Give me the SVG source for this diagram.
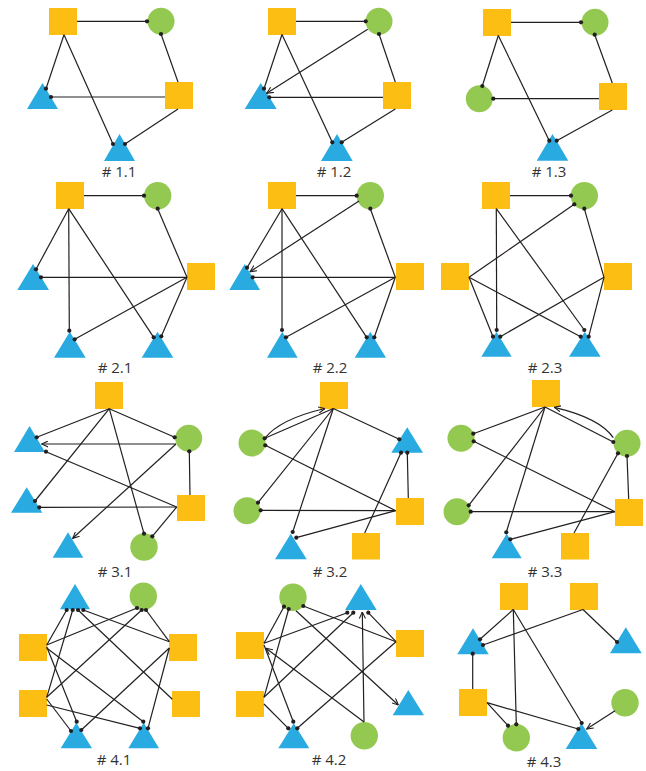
<svg xmlns="http://www.w3.org/2000/svg" width="646" height="771" viewBox="0 0 646 771">
<style>
.sq{fill:#FDBE13}
.ci{fill:#93C950}
.tr{fill:#29ABE2}
.e{stroke:#231F20;stroke-width:1.2;fill:none}
.a{stroke:#231F20;stroke-width:1.2;fill:none;marker-end:url(#arr)}
.d{fill:#231F20}
.lb{font-family:"Open Sans","Liberation Sans",sans-serif;font-size:15px;fill:#333;text-anchor:middle}
</style>
<defs>
<marker id="arr" viewBox="0 0 8 8" refX="7.5" refY="4" markerWidth="7" markerHeight="7" markerUnits="userSpaceOnUse" orient="auto">
<path d="M0,0.5 L7.5,4 L0,7.5" fill="none" stroke="#231F20" stroke-width="1.2"/>
</marker>
</defs>

<!-- Panel 1.1 -->
<g id="p11-n1"><rect class="sq" x="49" y="8" width="28" height="27"/></g>
<g id="p11-n2"><circle class="ci" cx="161" cy="21.3" r="13.5"/></g>
<g id="p11-n3"><polygon class="tr" points="27,109 58,109 42.5,83"/></g>
<g id="p11-n4"><rect class="sq" x="165" y="82" width="28" height="27"/></g>
<g id="p11-n5"><polygon class="tr" points="104,161 135,161 119.5,134"/></g>
<g id="p11-edges">
<line class="e" x1="64" y1="34.7" x2="46" y2="88.7"/>
<line class="e" x1="77" y1="21.3" x2="147" y2="21.3"/>
<line class="e" x1="161" y1="34" x2="178" y2="82"/>
<line class="e" x1="165" y1="97" x2="51" y2="97"/>
<line class="e" x1="64" y1="34.7" x2="113" y2="144"/>
<line class="e" x1="178" y1="109" x2="125" y2="144"/>
<circle class="d" cx="46" cy="88.7" r="2.1"/><circle class="d" cx="147" cy="21.3" r="2.1"/><circle class="d" cx="161" cy="34" r="2.1"/><circle class="d" cx="51" cy="97" r="2.1"/><circle class="d" cx="113" cy="144" r="2.1"/><circle class="d" cx="125" cy="144" r="2.1"/>
</g>
<text class="lb" x="119" y="177"># 1.1</text>

<!-- Panel 1.2 -->
<g id="p12-n1"><rect class="sq" x="268" y="8" width="28" height="27"/></g>
<g id="p12-n2"><circle class="ci" cx="379" cy="21.3" r="13.5"/></g>
<g id="p12-n3"><polygon class="tr" points="244.7,109 276.7,109 260.7,83"/></g>
<g id="p12-n4"><rect class="sq" x="383" y="82" width="28" height="27"/></g>
<g id="p12-n5"><polygon class="tr" points="321,161 352.7,161 337,134"/></g>
<g id="p12-edges">
<line class="e" x1="282" y1="34.5" x2="264" y2="88.7"/>
<line class="e" x1="296" y1="21.3" x2="365.7" y2="21.3"/>
<line class="a" x1="367.7" y1="29.3" x2="266.7" y2="93.3"/>
<line class="e" x1="379" y1="34" x2="395.3" y2="82"/>
<line class="e" x1="383" y1="97.3" x2="269.3" y2="97.3"/>
<line class="e" x1="282" y1="34.5" x2="332.3" y2="142.3"/>
<line class="e" x1="395.3" y1="109" x2="341.7" y2="142.3"/>
<circle class="d" cx="264" cy="88.7" r="2.1"/><circle class="d" cx="365.7" cy="21.3" r="2.1"/><circle class="d" cx="379" cy="34" r="2.1"/><circle class="d" cx="269.3" cy="97.3" r="2.1"/><circle class="d" cx="332.3" cy="142.3" r="2.1"/><circle class="d" cx="341.7" cy="142.3" r="2.1"/>
</g>
<text class="lb" x="334" y="177"># 1.2</text>

<!-- Panel 1.3 -->
<g id="p13-n1"><rect class="sq" x="483" y="9" width="28" height="27"/></g>
<g id="p13-n2"><circle class="ci" cx="595" cy="22.3" r="13.5"/></g>
<g id="p13-n3"><circle class="ci" cx="479.3" cy="98.7" r="13.5"/></g>
<g id="p13-n4"><rect class="sq" x="599" y="83" width="28" height="27"/></g>
<g id="p13-n5"><polygon class="tr" points="536.7,160.7 568.3,160.7 552.5,134"/></g>
<g id="p13-edges">
<line class="e" x1="498.3" y1="35.5" x2="482.3" y2="86"/>
<line class="e" x1="511" y1="22.3" x2="581" y2="22.3"/>
<line class="e" x1="594.7" y1="34.7" x2="612.3" y2="83"/>
<line class="e" x1="599" y1="98.7" x2="493.3" y2="98.7"/>
<line class="e" x1="498.3" y1="35.5" x2="549.3" y2="140.7"/>
<line class="e" x1="612.3" y1="110" x2="556.7" y2="140.7"/>
<circle class="d" cx="482.3" cy="86" r="2.1"/><circle class="d" cx="581" cy="22.3" r="2.1"/><circle class="d" cx="594.7" cy="34.7" r="2.1"/><circle class="d" cx="493.3" cy="98.7" r="2.1"/><circle class="d" cx="549.3" cy="140.7" r="2.1"/><circle class="d" cx="556.7" cy="140.7" r="2.1"/>
</g>
<text class="lb" x="549" y="177"># 1.3</text>

<!-- Panel 2.1 -->
<g id="p21-n1"><rect class="sq" x="56" y="182" width="28" height="27"/></g>
<g id="p21-n2"><circle class="ci" cx="157.7" cy="195.7" r="13.7"/></g>
<g id="p21-n3"><polygon class="tr" points="17.3,290 49,290 33,264"/></g>
<g id="p21-n4"><rect class="sq" x="187" y="263" width="28" height="27"/></g>
<g id="p21-n5"><polygon class="tr" points="54,357.7 85.7,357.7 69.8,331.7"/></g>
<g id="p21-n6"><polygon class="tr" points="141.7,357.7 173.3,357.7 157.5,331.7"/></g>
<g id="p21-edges">
<line class="e" x1="84" y1="195.7" x2="144" y2="195.7"/>
<line class="e" x1="157.7" y1="208.7" x2="187" y2="277.3"/>
<line class="e" x1="68.7" y1="208.7" x2="36" y2="269.3"/>
<line class="e" x1="68.7" y1="208.7" x2="69.3" y2="330.7"/>
<line class="e" x1="68.7" y1="208.7" x2="153.7" y2="337.3"/>
<line class="e" x1="187" y1="277.3" x2="41" y2="277.3"/>
<line class="e" x1="187" y1="277.3" x2="74.7" y2="339.3"/>
<line class="e" x1="187" y1="277.3" x2="161.3" y2="336.3"/>
<circle class="d" cx="144" cy="195.7" r="2.1"/><circle class="d" cx="157.7" cy="208.7" r="2.1"/><circle class="d" cx="36" cy="269.3" r="2.1"/><circle class="d" cx="69.3" cy="330.7" r="2.1"/><circle class="d" cx="153.7" cy="337.3" r="2.1"/><circle class="d" cx="41" cy="277.3" r="2.1"/><circle class="d" cx="74.7" cy="339.3" r="2.1"/><circle class="d" cx="161.3" cy="336.3" r="2.1"/>
</g>
<text class="lb" x="115" y="373"># 2.1</text>

<!-- Panel 2.2 -->
<g id="p22-n1"><rect class="sq" x="268" y="182" width="28" height="27"/></g>
<g id="p22-n2"><circle class="ci" cx="370.3" cy="195.7" r="13.7"/></g>
<g id="p22-n3"><polygon class="tr" points="229.3,290 260,290 244.7,264"/></g>
<g id="p22-n4"><rect class="sq" x="396" y="263" width="28" height="27"/></g>
<g id="p22-n5"><polygon class="tr" points="267,357.7 297.7,357.7 282.3,331.7"/></g>
<g id="p22-n6"><polygon class="tr" points="354.7,357.7 386,357.7 370.3,331.7"/></g>
<g id="p22-edges">
<line class="e" x1="296" y1="195.7" x2="356.7" y2="195.7"/>
<line class="a" x1="359" y1="201" x2="250" y2="271.7"/>
<line class="e" x1="370.3" y1="208.7" x2="395.3" y2="277.3"/>
<line class="e" x1="282" y1="208.7" x2="247" y2="267.7"/>
<line class="e" x1="282" y1="208.7" x2="282" y2="330"/>
<line class="e" x1="282" y1="208.7" x2="366.7" y2="337.3"/>
<line class="e" x1="395.3" y1="277.3" x2="252.7" y2="277.3"/>
<line class="e" x1="395.3" y1="277.3" x2="286" y2="337.3"/>
<line class="e" x1="395.3" y1="277.3" x2="374.3" y2="337.3"/>
<circle class="d" cx="356.7" cy="195.7" r="2.1"/><circle class="d" cx="370.3" cy="208.7" r="2.1"/><circle class="d" cx="247" cy="267.7" r="2.1"/><circle class="d" cx="282" cy="330" r="2.1"/><circle class="d" cx="366.7" cy="337.3" r="2.1"/><circle class="d" cx="252.7" cy="277.3" r="2.1"/><circle class="d" cx="286" cy="337.3" r="2.1"/><circle class="d" cx="374.3" cy="337.3" r="2.1"/>
</g>
<text class="lb" x="330" y="373"># 2.2</text>

<!-- Panel 2.3 -->
<g id="p23-n1"><rect class="sq" x="482" y="182" width="28" height="27"/></g>
<g id="p23-n2"><circle class="ci" cx="584.3" cy="195.7" r="13.7"/></g>
<g id="p23-n3"><rect class="sq" x="441" y="263" width="28" height="27"/></g>
<g id="p23-n4"><rect class="sq" x="604" y="263" width="28" height="27"/></g>
<g id="p23-n5"><polygon class="tr" points="481.3,356.7 511.7,356.7 496.5,331.7"/></g>
<g id="p23-n6"><polygon class="tr" points="569,356.7 600.7,356.7 584.8,331.7"/></g>
<g id="p23-edges">
<line class="e" x1="510" y1="195.7" x2="571" y2="195.7"/>
<line class="e" x1="574.3" y1="204.3" x2="469" y2="277.3"/>
<line class="e" x1="584.3" y1="208.7" x2="604" y2="277.3"/>
<line class="e" x1="496.3" y1="208.7" x2="496.7" y2="330"/>
<line class="e" x1="496.3" y1="208.7" x2="584.3" y2="330"/>
<line class="e" x1="469" y1="277.3" x2="493" y2="336.7"/>
<line class="e" x1="469" y1="277.3" x2="580.7" y2="336.7"/>
<line class="e" x1="604" y1="277.3" x2="500.3" y2="336.7"/>
<line class="e" x1="604" y1="277.3" x2="588.7" y2="336.7"/>
<circle class="d" cx="571" cy="195.7" r="2.1"/><circle class="d" cx="574.3" cy="204.3" r="2.1"/><circle class="d" cx="584.3" cy="208.7" r="2.1"/><circle class="d" cx="496.7" cy="330" r="2.1"/><circle class="d" cx="584.3" cy="330" r="2.1"/><circle class="d" cx="493" cy="336.7" r="2.1"/><circle class="d" cx="580.7" cy="336.7" r="2.1"/><circle class="d" cx="500.3" cy="336.7" r="2.1"/><circle class="d" cx="588.7" cy="336.7" r="2.1"/>
</g>
<text class="lb" x="545" y="373"># 2.3</text>

<!-- Panel 3.1 -->
<g id="p31-n1"><rect class="sq" x="95" y="382" width="28" height="27"/></g>
<g id="p31-n2"><polygon class="tr" points="14,452 45,452 29.5,426"/></g>
<g id="p31-n3"><circle class="ci" cx="188.7" cy="438.3" r="13.5"/></g>
<g id="p31-n4"><polygon class="tr" points="11,512.7 42.3,512.7 26.7,487.3"/></g>
<g id="p31-n5"><rect class="sq" x="177" y="495" width="28" height="26"/></g>
<g id="p31-n6"><polygon class="tr" points="52.7,557.7 83.3,557.7 68,532.3"/></g>
<g id="p31-n7"><circle class="ci" cx="144" cy="547" r="13.7"/></g>
<g id="p31-edges">
<line class="e" x1="109.3" y1="408.7" x2="36.7" y2="437.3"/>
<line class="e" x1="109.3" y1="408.7" x2="174.7" y2="437.3"/>
<line class="e" x1="109.3" y1="408.7" x2="35" y2="501"/>
<line class="e" x1="109.3" y1="408.7" x2="144" y2="533.7"/>
<line class="a" x1="176" y1="444" x2="41.7" y2="444"/>
<line class="a" x1="176" y1="444" x2="72.7" y2="538.3"/>
<line class="e" x1="190" y1="495" x2="189.3" y2="451.3"/>
<line class="e" x1="176.7" y1="507" x2="46" y2="451.7"/>
<line class="e" x1="176.7" y1="507" x2="39.3" y2="507.3"/>
<line class="e" x1="176.7" y1="507" x2="152.3" y2="536.3"/>
<circle class="d" cx="36.7" cy="437.3" r="2.1"/><circle class="d" cx="174.7" cy="437.3" r="2.1"/><circle class="d" cx="35" cy="501" r="2.1"/><circle class="d" cx="144" cy="533.7" r="2.1"/><circle class="d" cx="189.3" cy="451.3" r="2.1"/><circle class="d" cx="46" cy="451.7" r="2.1"/><circle class="d" cx="39.3" cy="507.3" r="2.1"/><circle class="d" cx="152.3" cy="536.3" r="2.1"/>
</g>
<text class="lb" x="115" y="577"># 3.1</text>

<!-- Panel 3.2 -->
<g id="p32-n1"><rect class="sq" x="320" y="382" width="28" height="27"/></g>
<g id="p32-n2"><circle class="ci" cx="252" cy="443" r="13.5"/></g>
<g id="p32-n3"><polygon class="tr" points="391.3,452.7 423,452.7 407.2,427.3"/></g>
<g id="p32-n4"><circle class="ci" cx="247" cy="510.7" r="13.5"/></g>
<g id="p32-n5"><rect class="sq" x="396" y="498" width="28" height="27"/></g>
<g id="p32-n6"><polygon class="tr" points="275,559.3 306.7,559.3 290.8,533.7"/></g>
<g id="p32-n7"><rect class="sq" x="352" y="533" width="28" height="26.5"/></g>
<g id="p32-edges">
<path class="a" d="M264.7,438.3 Q280,419 325,408.5"/>
<line class="e" x1="333.3" y1="408.5" x2="264.7" y2="438.3"/>
<line class="e" x1="333.3" y1="408.5" x2="399.3" y2="439.3"/>
<line class="e" x1="333.3" y1="408.5" x2="258" y2="502.7"/>
<line class="e" x1="333.3" y1="408.5" x2="292.7" y2="532"/>
<line class="e" x1="265.3" y1="445.3" x2="395.7" y2="510.7"/>
<line class="e" x1="395.7" y1="510.7" x2="260.7" y2="510.3"/>
<line class="e" x1="395.7" y1="510.7" x2="296.3" y2="537.7"/>
<line class="e" x1="408.3" y1="498" x2="407.3" y2="452.7"/>
<line class="e" x1="364.7" y1="533" x2="401" y2="452.7"/>
<circle class="d" cx="264.7" cy="438.3" r="2.1"/><circle class="d" cx="399.3" cy="439.3" r="2.1"/><circle class="d" cx="258" cy="502.7" r="2.1"/><circle class="d" cx="292.7" cy="532" r="2.1"/><circle class="d" cx="265.3" cy="445.3" r="2.1"/><circle class="d" cx="260.7" cy="510.3" r="2.1"/><circle class="d" cx="296.3" cy="537.7" r="2.1"/><circle class="d" cx="407.3" cy="452.7" r="2.1"/><circle class="d" cx="401" cy="452.7" r="2.1"/>
</g>
<text class="lb" x="330" y="577"># 3.2</text>

<!-- Panel 3.3 -->
<g id="p33-n1"><rect class="sq" x="532" y="380" width="28" height="27"/></g>
<g id="p33-n2"><circle class="ci" cx="461" cy="438.3" r="13.5"/></g>
<g id="p33-n3"><circle class="ci" cx="627" cy="443.3" r="13.5"/></g>
<g id="p33-n4"><circle class="ci" cx="457" cy="511.7" r="13.5"/></g>
<g id="p33-n5"><rect class="sq" x="615" y="499" width="28" height="27"/></g>
<g id="p33-n6"><polygon class="tr" points="491.7,558.3 521.7,558.3 506.7,533.7"/></g>
<g id="p33-n7"><rect class="sq" x="561" y="533" width="28" height="26.5"/></g>
<g id="p33-edges">
<line class="e" x1="545" y1="407" x2="473.3" y2="433.7"/>
<line class="e" x1="545" y1="407" x2="613.3" y2="442"/>
<line class="e" x1="545" y1="407" x2="468.7" y2="505.3"/>
<line class="e" x1="545" y1="407" x2="506.3" y2="532.3"/>
<path class="a" d="M613.3,437.7 Q600,418 554.3,407.3"/>
<line class="e" x1="473.7" y1="441.3" x2="615" y2="511.7"/>
<line class="e" x1="615" y1="511.7" x2="470.7" y2="511.7"/>
<line class="e" x1="615" y1="511.7" x2="510.3" y2="539.3"/>
<line class="e" x1="628.7" y1="499" x2="627" y2="456"/>
<line class="e" x1="574" y1="533" x2="618" y2="453.3"/>
<circle class="d" cx="473.3" cy="433.7" r="2.1"/><circle class="d" cx="613.3" cy="442" r="2.1"/><circle class="d" cx="468.7" cy="505.3" r="2.1"/><circle class="d" cx="506.3" cy="532.3" r="2.1"/><circle class="d" cx="473.7" cy="441.3" r="2.1"/><circle class="d" cx="470.7" cy="511.7" r="2.1"/><circle class="d" cx="510.3" cy="539.3" r="2.1"/><circle class="d" cx="627" cy="456" r="2.1"/><circle class="d" cx="618" cy="453.3" r="2.1"/>
</g>
<text class="lb" x="545" y="577"># 3.3</text>

<!-- Panel 4.1 -->
<g id="p41-n1"><polygon class="tr" points="60,609.3 90,609.3 75,584"/></g>
<g id="p41-n2"><circle class="ci" cx="143.3" cy="596.3" r="13.7"/></g>
<g id="p41-n3"><rect class="sq" x="19" y="634" width="28" height="27"/></g>
<g id="p41-n4"><rect class="sq" x="169" y="634" width="28" height="27"/></g>
<g id="p41-n5"><rect class="sq" x="19" y="690" width="28" height="27"/></g>
<g id="p41-n6"><rect class="sq" x="172" y="691" width="28" height="26"/></g>
<g id="p41-n7"><polygon class="tr" points="60.7,748.3 92,748.3 76.3,722.7"/></g>
<g id="p41-n8"><polygon class="tr" points="128.3,748.3 159,748.3 143.7,722.7"/></g>
<g id="p41-edges">
<line class="e" x1="46.7" y1="645" x2="66.7" y2="610"/>
<line class="e" x1="46.7" y1="697.3" x2="72.7" y2="610"/>
<line class="e" x1="172.3" y1="699.3" x2="78" y2="610"/>
<line class="e" x1="169.3" y1="641.7" x2="83.3" y2="610"/>
<line class="e" x1="46.7" y1="645" x2="137" y2="608"/>
<line class="e" x1="46.7" y1="697.3" x2="141.7" y2="610"/>
<line class="e" x1="169.3" y1="641.7" x2="146" y2="610"/>
<line class="e" x1="46.7" y1="646.7" x2="76.7" y2="721.7"/>
<line class="e" x1="46.7" y1="699" x2="71" y2="731"/>
<line class="e" x1="169.3" y1="648" x2="81.3" y2="730"/>
<line class="e" x1="46.7" y1="648" x2="143.3" y2="721.7"/>
<line class="e" x1="46.7" y1="705" x2="140" y2="728.3"/>
<line class="e" x1="169.3" y1="648" x2="148" y2="728.3"/>
<circle class="d" cx="66.7" cy="610" r="2.1"/><circle class="d" cx="72.7" cy="610" r="2.1"/><circle class="d" cx="78" cy="610" r="2.1"/><circle class="d" cx="83.3" cy="610" r="2.1"/><circle class="d" cx="137" cy="608" r="2.1"/><circle class="d" cx="141.7" cy="610" r="2.1"/><circle class="d" cx="146" cy="610" r="2.1"/><circle class="d" cx="76.7" cy="721.7" r="2.1"/><circle class="d" cx="71" cy="731" r="2.1"/><circle class="d" cx="81.3" cy="730" r="2.1"/><circle class="d" cx="143.3" cy="721.7" r="2.1"/><circle class="d" cx="140" cy="728.3" r="2.1"/><circle class="d" cx="148" cy="728.3" r="2.1"/>
</g>
<text class="lb" x="114" y="765"># 4.1</text>

<!-- Panel 4.2 -->
<g id="p42-n1"><circle class="ci" cx="293" cy="597.3" r="13.7"/></g>
<g id="p42-n2"><polygon class="tr" points="345,610 376.7,610 360.8,584"/></g>
<g id="p42-n3"><rect class="sq" x="236" y="632" width="28" height="27"/></g>
<g id="p42-n4"><rect class="sq" x="396" y="630" width="28" height="27"/></g>
<g id="p42-n5"><rect class="sq" x="236" y="691" width="28" height="26"/></g>
<g id="p42-n6"><polygon class="tr" points="392.7,715.3 424,715.3 408.3,690"/></g>
<g id="p42-n7"><polygon class="tr" points="278.3,748.3 309.3,748.3 293.8,723.3"/></g>
<g id="p42-n8"><circle class="ci" cx="364.3" cy="735.7" r="13.7"/></g>
<g id="p42-edges">
<line class="e" x1="264" y1="643.3" x2="284" y2="606.7"/>
<line class="e" x1="264" y1="643.3" x2="347.3" y2="612.7"/>
<line class="e" x1="264" y1="697.3" x2="288.7" y2="609"/>
<line class="e" x1="264" y1="697.3" x2="353.3" y2="612.7"/>
<line class="e" x1="396" y1="641.7" x2="303.3" y2="606"/>
<line class="e" x1="396" y1="641.7" x2="368.3" y2="612.7"/>
<line class="e" x1="396" y1="641.7" x2="297.3" y2="728.3"/>
<line class="a" x1="364" y1="722" x2="362.3" y2="612"/>
<line class="a" x1="296" y1="610.7" x2="398.3" y2="705"/>
<line class="a" x1="364" y1="722" x2="266" y2="648.3"/>
<line class="e" x1="264" y1="645" x2="293.3" y2="721.7"/>
<line class="e" x1="264" y1="704" x2="288.3" y2="728.3"/>
<circle class="d" cx="284" cy="606.7" r="2.1"/><circle class="d" cx="288.7" cy="609" r="2.1"/><circle class="d" cx="303.3" cy="606" r="2.1"/><circle class="d" cx="347.3" cy="612.7" r="2.1"/><circle class="d" cx="353.3" cy="612.7" r="2.1"/><circle class="d" cx="368.3" cy="612.7" r="2.1"/><circle class="d" cx="293.3" cy="721.7" r="2.1"/><circle class="d" cx="288.3" cy="728.3" r="2.1"/><circle class="d" cx="297.3" cy="728.3" r="2.1"/>
</g>
<text class="lb" x="329" y="765"># 4.2</text>

<!-- Panel 4.3 -->
<g id="p43-n1"><rect class="sq" x="500" y="583" width="28" height="27"/></g>
<g id="p43-n2"><rect class="sq" x="570" y="583" width="28" height="27"/></g>
<g id="p43-n3"><polygon class="tr" points="457.3,654.3 488.7,654.3 473,628.3"/></g>
<g id="p43-n4"><polygon class="tr" points="610,653.3 641.7,653.3 625.8,627.3"/></g>
<g id="p43-n5"><rect class="sq" x="459" y="689" width="28" height="27"/></g>
<g id="p43-n6"><circle class="ci" cx="625" cy="702.7" r="13.7"/></g>
<g id="p43-n7"><circle class="ci" cx="516.3" cy="737.7" r="13.7"/></g>
<g id="p43-n8"><polygon class="tr" points="565.7,749 597.3,749 581.5,723.3"/></g>
<g id="p43-edges">
<line class="e" x1="513.3" y1="609.5" x2="480" y2="639.3"/>
<line class="e" x1="513.3" y1="609.5" x2="516.3" y2="724.3"/>
<line class="e" x1="513.3" y1="609.5" x2="581.7" y2="723"/>
<line class="e" x1="583" y1="609.5" x2="483" y2="645"/>
<line class="e" x1="583" y1="609.5" x2="617" y2="642"/>
<line class="e" x1="472.7" y1="689" x2="472.7" y2="653.7"/>
<line class="e" x1="487" y1="702.7" x2="508" y2="725.7"/>
<line class="e" x1="487" y1="702.7" x2="578.3" y2="729"/>
<line class="a" x1="615" y1="710.7" x2="586.7" y2="729"/>
<circle class="d" cx="480" cy="639.3" r="2.1"/><circle class="d" cx="516.3" cy="724.3" r="2.1"/><circle class="d" cx="581.7" cy="723" r="2.1"/><circle class="d" cx="483" cy="645" r="2.1"/><circle class="d" cx="617" cy="642" r="2.1"/><circle class="d" cx="472.7" cy="653.7" r="2.1"/><circle class="d" cx="508" cy="725.7" r="2.1"/><circle class="d" cx="578.3" cy="729" r="2.1"/>
</g>
<text class="lb" x="544" y="767"># 4.3</text>
</svg>
